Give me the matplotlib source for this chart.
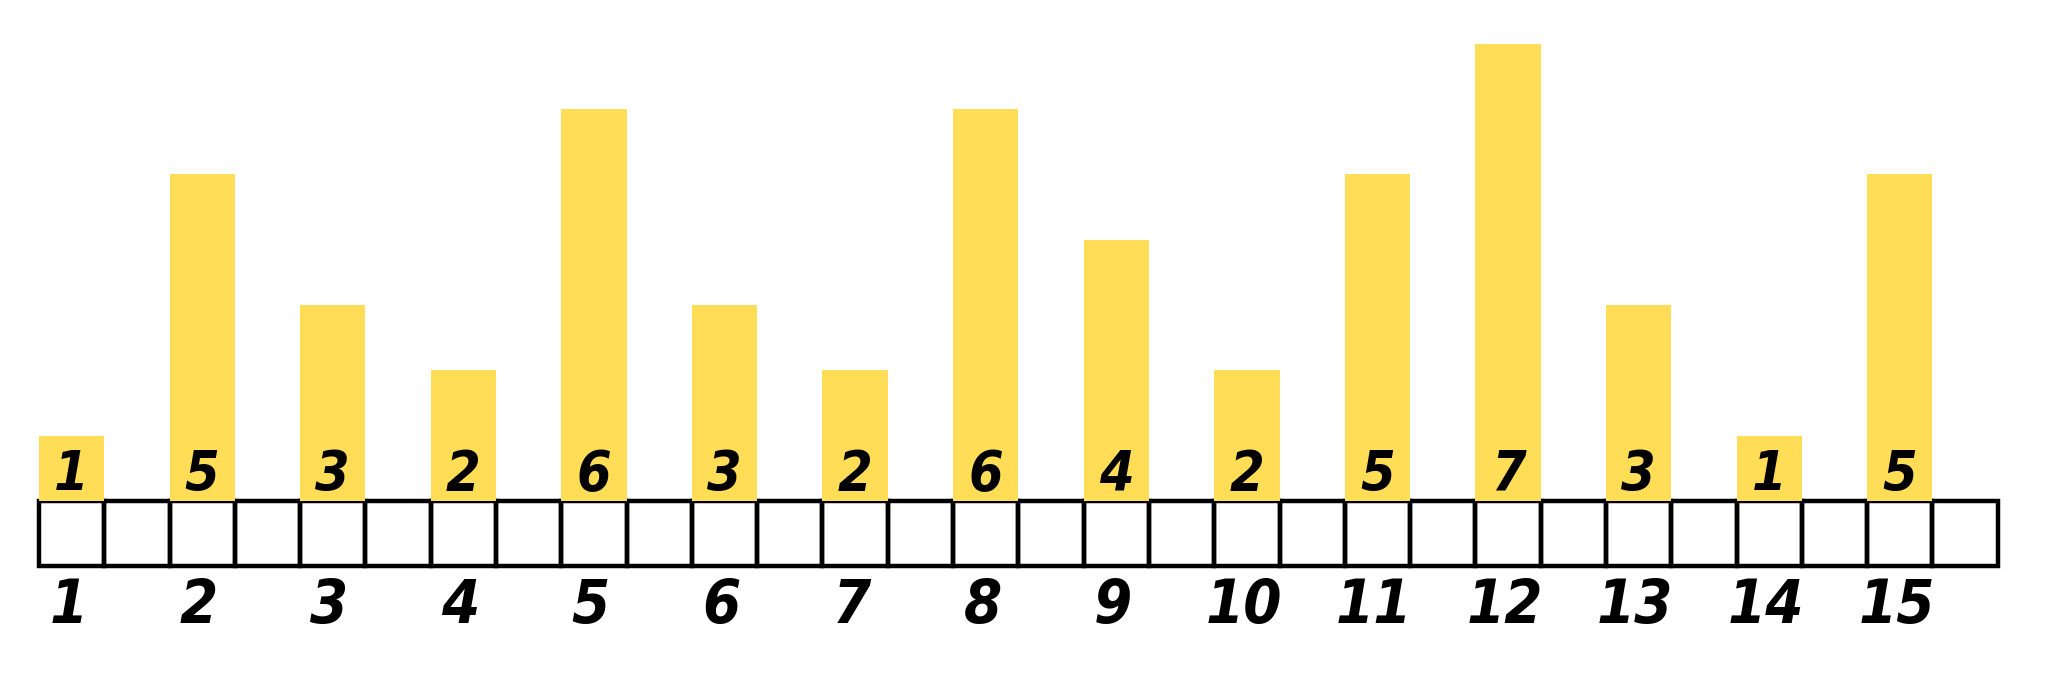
import numpy as np
import matplotlib
matplotlib.use('Agg')
from matplotlib import pyplot as plt

# data
values = [1, 5, 3, 2, 6, 3, 2, 6, 4, 2, 5, 7, 3, 1, 5]
labels = [str(i) for i in range(1, 16)]
n_cells = 2 * len(values)

bar_color = '#FFDD57'
hand = dict(family='DejaVu Sans', fontstretch='condensed', fontstyle='italic',
            fontweight='bold', color='black', ha='center', va='center', zorder=3)

fig = plt.figure(figsize=(20.48, 6.74), dpi=100)
ax = fig.add_axes([0, 0, 1, 1])
ax.set_xlim(-0.597, 30.77)
ax.set_ylim(-2.65, 7.67)
ax.axis('off')

# row of empty cells under the bars
for k in range(n_cells):
    ax.add_patch(plt.Rectangle((k, -1), 1, 1, fill=False, edgecolor='black',
                               linewidth=3.2, zorder=1))

# bars on every other cell
xpos = np.arange(len(values)) * 2
ax.bar(xpos, values, width=1, align='edge', color=bar_color, zorder=2)

for x, v, lab in zip(xpos, values, labels):
    ax.text(x + 0.5, 0.4, str(v), fontsize=40, **hand)
    ax.text(x + 0.45, -1.62, lab, fontsize=44, **hand)

fig.savefig('out.png', dpi=100)
